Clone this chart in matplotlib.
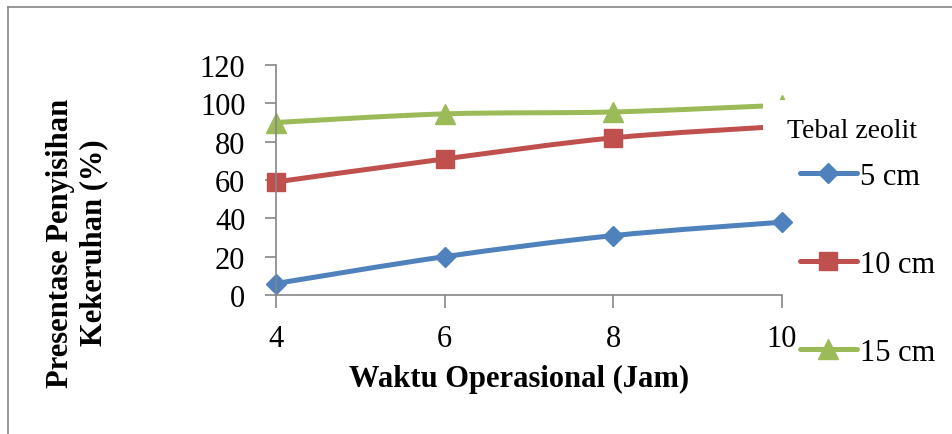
import matplotlib

matplotlib.use("Agg")
import matplotlib.pyplot as plt
import numpy as np
from matplotlib.lines import Line2D
from matplotlib.patches import PathPatch, Rectangle
from matplotlib.path import Path

# Data
hours = [4, 6, 8, 10]
tebal_5 = [6, 20, 31, 38]
tebal_10 = [59, 71, 82, 88]
tebal_15 = [90, 94.5, 95.5, 99]
series_labels = ["5 cm", "10 cm", "15 cm"]
y_ticks = [0, 20, 40, 60, 80, 100, 120]

COLORS = ["#4F81BD", "#C0504D", "#9BBB59"]
MARKERS = [("D", 10), ("s", 13), ("^", 14)]

plt.rcParams["font.family"] = ["Liberation Serif", "DejaVu Serif"]


def smooth_path(xs, ys):
    """Excel-like smoothed line as a chain of cubic Bezier segments"""
    pts = np.column_stack([xs, ys]).astype(float)
    verts = [pts[0]]
    codes = [Path.MOVETO]
    n = len(pts)
    for i in range(n - 1):
        p0 = pts[i - 1] if i > 0 else pts[i]
        p1 = pts[i]
        p2 = pts[i + 1]
        p3 = pts[i + 2] if i + 2 < n else pts[i + 1]
        verts += [p1 + (p2 - p0) / 6, p2 - (p3 - p1) / 6, p2]
        codes += [Path.CURVE4] * 3
    return Path(verts, codes)


fig = plt.figure(figsize=(9.52, 4.35), dpi=100)
ax = fig.add_axes([276 / 952, 1 - 296 / 435, (782 - 276) / 952, (296 - 66) / 435])

handles = []
for ys, color, (m, ms), label in zip(
    [tebal_5, tebal_10, tebal_15], COLORS, MARKERS, series_labels
):
    patch = PathPatch(
        smooth_path(hours, ys),
        facecolor="none",
        edgecolor=color,
        linewidth=3.6,
        capstyle="round",
        zorder=2,
    )
    patch.set_clip_on(False)
    ax.add_patch(patch)
    ax.plot(
        hours,
        ys,
        linestyle="none",
        marker=m,
        markersize=ms,
        color=color,
        clip_on=False,
        zorder=2.5,
    )
    handles.append(
        Line2D(
            [], [], color=color, linewidth=3.6, marker=m, markersize=ms,
            solid_capstyle="round", label=label,
        )
    )

ax.set_xlim(4, 10)
ax.set_ylim(0, 120)
ax.set_xticks(hours)
ax.set_yticks(y_ticks)
ax.tick_params(axis="both", labelsize=22, color="#868686", width=1.2)
ax.tick_params(axis="y", length=8, pad=14)
ax.tick_params(axis="x", length=9, pad=12)
for side in ["top", "right"]:
    ax.spines[side].set_visible(False)
for side in ["left", "bottom"]:
    ax.spines[side].set_color("#868686")
    ax.spines[side].set_linewidth(1.2)

# Legend area sits over the right end of the plot
fig.add_artist(
    Rectangle(
        (763 / 952, 1 - 205 / 435),
        (952 - 763) / 952,
        (205 - 101) / 435,
        transform=fig.transFigure,
        facecolor="white",
        edgecolor="none",
        zorder=3,
    )
)

fig.text(787 / 952, 1 - 132 / 435, "Tebal zeolit", fontsize=20, va="center", ha="left", zorder=4)
leg = fig.legend(
    handles=handles,
    loc="upper left",
    bbox_to_anchor=(800 / 952, 1 - 163 / 435),
    frameon=False,
    fontsize=22,
    handlelength=1.85,
    handletextpad=0.12,
    labelspacing=1.93,
    borderpad=0,
    borderaxespad=0,
)
leg.set_zorder(4)

fig.text(
    519 / 952, 1 - 379 / 435, "Waktu Operasional (Jam)",
    fontsize=22, fontweight="bold", ha="center", va="center",
)
fig.text(
    77 / 952, 1 - 243 / 435, "Presentase Penyisihan\nKekeruhan (%)",
    fontsize=22, fontweight="bold", ha="center", va="center",
    rotation=90, multialignment="center", linespacing=1.2,
)

# Outer chart-area border (only top and left show in the crop)
fig.add_artist(Line2D([8 / 952, 1.0], [1 - 8 / 435] * 2, transform=fig.transFigure, color="#868686", linewidth=1.2))
fig.add_artist(Line2D([8 / 952] * 2, [0.0, 1 - 8 / 435], transform=fig.transFigure, color="#868686", linewidth=1.2))

fig.savefig("out.png", dpi=100)
